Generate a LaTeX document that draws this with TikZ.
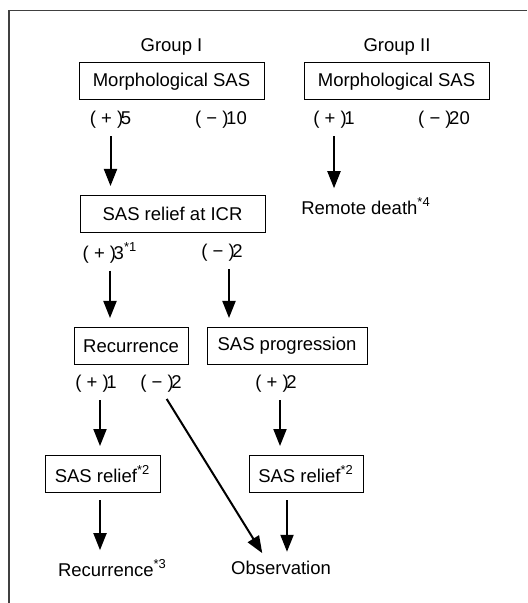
\documentclass[tikz,border=0pt]{standalone}
\usepackage{fontspec}
\setmainfont{Liberation Sans}
\usetikzlibrary{arrows.meta,positioning}

\newcommand{\fs}{\fontsize{9.25}{11}\selectfont}
\newcommand{\pl}{(\ +\ )\kern-1.2pt}
\newcommand{\mn}{(\ −\ )\kern-1.2pt}
\tikzset{
  box/.style={draw, line width=0.5pt, minimum height=18.5pt, inner sep=0pt, font=\fs},
  lbl/.style={inner sep=0pt, font=\fs},
  arr/.style={-{Triangle[length=8.5pt,width=6.5pt]}, line width=1pt, shorten <=3.5pt, shorten >=4.5pt},
}

\begin{document}
\begin{tikzpicture}[x=0.5pt, y=-0.5pt]
  \useasboundingbox (0,0) rectangle (527,603);
  % Frame
  \draw[line width=0.75pt, black!75] (527,10.5) -- (9,10.5) -- (9,603);

  % Top row
  \node[lbl] (grp1) at (171.5,47) {Group I};
  \node[lbl] (grp2) at (397,47) {Group II};
  \node[box, minimum width=92.5pt] (morph1) at (171.5,81.5) {Morphological SAS};
  \node[box, minimum width=92.5pt] (morph2) at (396.5,81.5) {Morphological SAS};
  \node[lbl] (pos1) at (110.5,120) {\pl5};
  \node[lbl] (neg1) at (221,120) {\mn10};
  \node[lbl] (pos2) at (334,120) {\pl1};
  \node[lbl] (neg2) at (444,120) {\mn20};

  % Second row
  \node[box, minimum width=92.5pt] (icr) at (172.5,214) {SAS relief at ICR};
  \node[lbl] (death) at (366,206) {Remote death\textsuperscript{*4}};
  \node[lbl] (pos3) at (110,253) {\pl3\textsuperscript{*1}};
  \node[lbl] (neg3) at (222,253) {\mn2};

  % Third row
  \node[box, minimum width=57pt] (recur) at (131,346) {Recurrence};
  \node[box, minimum width=80pt] (prog) at (287,346) {SAS progression};
  \node[lbl] (pos4) at (96,384) {\pl1};
  \node[lbl] (neg4) at (161,384) {\mn2};
  \node[lbl] (pos5) at (276,384) {\pl2};

  % Bottom rows
  \node[box, minimum width=57.5pt] (relief1) at (102.5,474) {SAS relief\textsuperscript{*2}};
  \node[box, minimum width=57pt] (relief2) at (306,474) {SAS relief\textsuperscript{*2}};
  \node[lbl] (recur3) at (112.5,568) {Recurrence\textsuperscript{*3}};
  \node[lbl] (obs) at (281,568) {Observation};

  % Arrows
  \draw[arr] (pos1.south) -- (pos1.south |- icr.north);
  \draw[arr] (pos2.south) -- (pos2.south |- death.north);
  \draw[arr] (pos3.south) -- (pos3.south |- recur.north);
  \draw[arr] ([xshift=3.5pt]neg3.south) -- ([xshift=3.5pt]neg3.south |- prog.north);
  \draw[arr] ([xshift=2pt]pos4.south) -- ([xshift=2pt]pos4.south |- relief1.north);
  \draw[arr] ([xshift=1pt]neg4.south) -- ([xshift=-7pt]obs.north);
  \draw[arr] ([xshift=2pt]pos5.south) -- ([xshift=2pt]pos5.south |- relief2.north);
  \draw[arr] ([xshift=-1.25pt]relief1.south) -- ([xshift=-1.25pt]relief1.south |- recur3.north);
  \draw[arr] ([xshift=-9.5pt]relief2.south) -- ([xshift=-9.5pt]relief2.south |- obs.north);
\end{tikzpicture}
\end{document}
